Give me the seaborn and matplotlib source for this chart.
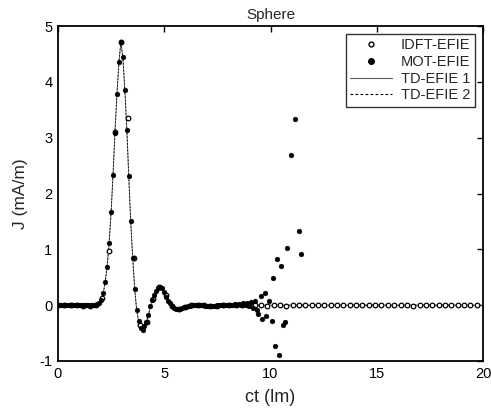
import numpy as np
import pandas as pd
import matplotlib
matplotlib.use("Agg")
import matplotlib.pyplot as plt
from matplotlib.lines import Line2D
import seaborn as sns

# ---------------- data ----------------
# IDFT-EFIE samples (open circles), time step ~0.2985 lm
idft_dt = 0.2985
idft_y = [0.00, 0.00, 0.00, 0.00, -0.01, -0.01, 0.00, 0.13, 0.97, 3.10,
          4.72, 3.36, 0.85, -0.36, -0.30, 0.11, 0.33, 0.18, -0.01, -0.07,
          -0.04, 0.00, 0.01, 0.00, -0.02, -0.01, 0.00, 0.01, 0.01, 0.01,
          0.00, 0.00, 0.00, -0.01, 0.00, 0.00, -0.01, 0.00, 0.00, 0.00,
          0.00, 0.01, 0.00, 0.00, 0.00, 0.00, 0.01, 0.00, 0.00, 0.01,
          0.00, 0.00, 0.00, 0.00, 0.00, 0.00, -0.01, 0.00, 0.00, 0.00,
          0.00, 0.00, 0.01, 0.00, 0.01, 0.00, 0.00]

# MOT-EFIE samples (filled dots), time step ~0.0925 lm up to ct ~9.3
mot_dt = 0.0925
mot_y = [0.01, 0.00, 0.01, 0.00, 0.01, 0.00, 0.00, 0.01, 0.00, 0.00,
         0.01, 0.00, 0.00, 0.00, 0.01, 0.00, 0.00, 0.00, 0.01, 0.01,
         0.02, 0.03, 0.09, 0.22, 0.41, 0.69, 1.11, 1.67, 2.34, 3.09,
         3.79, 4.36, 4.71, 4.44, 3.86, 3.14, 2.31, 1.51, 0.85, 0.29,
         -0.08, -0.28, -0.40, -0.44, -0.38, -0.30, -0.18, -0.02, 0.09, 0.18,
         0.26, 0.31, 0.33, 0.30, 0.23, 0.15, 0.08, 0.03, -0.02, -0.05,
         -0.07, -0.07, -0.06, -0.05, -0.04, -0.03, -0.02, -0.01, 0.00, 0.01,
         0.01, 0.01, 0.01, 0.00, 0.00, -0.01, -0.02, -0.02, -0.02, -0.01,
         -0.01, 0.00, 0.00, 0.01, 0.00, 0.01, 0.00, 0.01, 0.00, 0.01,
         0.02, 0.00, 0.02, 0.01, 0.03, 0.00, 0.04, -0.02, 0.06, -0.05,
         0.08, -0.08]
# MOT-EFIE late-time instability
mot_tail_x = [9.43, 9.55, 9.62, 9.73, 9.80, 9.92, 10.08, 10.13, 10.23, 10.32,
              10.42, 10.51, 10.60, 10.68, 10.78, 10.95, 11.15, 11.33, 11.42]
mot_tail_y = [-0.16, 0.17, -0.24, 0.21, -0.20, 0.08, -0.29, 0.48, -0.73, 0.83,
              -0.89, 0.70, -0.35, -0.30, 1.03, 2.69, 3.34, 1.33, 0.92]

# TD-EFIE reference curves (thin lines)
td_x = [0.0, 1.80, 1.94, 2.035, 2.13, 2.22, 2.31, 2.405, 2.50, 2.59, 2.68,
        2.775, 2.87, 2.96, 3.05, 3.145, 3.24, 3.33, 3.42, 3.515, 3.61,
        3.70, 3.79, 3.885, 3.98, 4.07, 4.16, 4.255, 4.35, 4.44, 4.53,
        4.625, 4.72, 4.81, 4.90, 4.995, 5.09, 5.18, 5.27, 5.365, 5.46,
        5.55, 5.64, 5.83, 6.01, 6.29, 6.66, 7.12, 7.49, 8.0, 20.0]
td1_y = [0.00, 0.00, 0.03, 0.09, 0.22, 0.41, 0.69, 1.11, 1.67, 2.34, 3.09,
         3.79, 4.36, 4.72, 4.44, 3.86, 3.14, 2.31, 1.51, 0.85, 0.29,
         -0.08, -0.28, -0.40, -0.44, -0.38, -0.30, -0.18, -0.02, 0.09, 0.18,
         0.26, 0.31, 0.33, 0.30, 0.23, 0.15, 0.08, 0.03, -0.02, -0.05,
         -0.07, -0.07, -0.05, -0.03, 0.00, 0.01, -0.02, 0.00, 0.00, 0.00]
td2_y = list(td1_y)

x_ticks = [0, 5, 10, 15, 20]
y_ticks = [-1, 0, 1, 2, 3, 4, 5]

# ---------------- figure ----------------
sns.set_style("white")
plt.rcParams['font.family'] = ['Liberation Sans', 'DejaVu Sans']
plt.rcParams['axes.unicode_minus'] = False

fig = plt.figure(figsize=(4.91, 4.09), dpi=100)
ax = fig.add_axes([58 / 491, 1 - 361 / 409, 425 / 491, 335 / 409])

idft_df = pd.DataFrame({"t": np.arange(len(idft_y)) * idft_dt, "J": idft_y})
mot_df = pd.DataFrame({
    "t": list(np.arange(len(mot_y)) * mot_dt) + mot_tail_x,
    "J": mot_y + mot_tail_y,
})
td_df = pd.DataFrame({"t": td_x, "J1": td1_y, "J2": td2_y})

sns.lineplot(data=td_df, x="t", y="J1", ax=ax, color="#777777", lw=0.7,
             sort=False, estimator=None, zorder=2)
sns.lineplot(data=td_df, x="t", y="J2", ax=ax, color="black", lw=0.6,
             linestyle=(0, (2, 2)), sort=False, estimator=None, zorder=2)
sns.scatterplot(data=idft_df, x="t", y="J", ax=ax, marker="o", s=11,
                facecolor="white", edgecolor="black", linewidth=0.9, zorder=3)
sns.scatterplot(data=mot_df, x="t", y="J", ax=ax, marker="o", s=12,
                color="black", edgecolor="black", linewidth=0.3, zorder=4)

ax.set_xlim(0, 20)
ax.set_ylim(-1, 5)
ax.set_xticks(x_ticks)
ax.set_yticks(y_ticks)
ax.tick_params(direction="in", length=4, width=1, top=True, right=True,
               labelsize=10.5, colors="black", pad=4)
for sp in ax.spines.values():
    sp.set_linewidth(1.3)
    sp.set_color("black")

ax.set_xlabel("ct (lm)", fontsize=13, labelpad=6)
ax.set_ylabel("J (mA/m)", fontsize=12.5, labelpad=8)
ax.set_title("Sphere", fontsize=11, pad=5)

handles = [
    Line2D([], [], ls="none", marker="o", ms=3.5, mfc="white", mec="black", mew=1),
    Line2D([], [], ls="none", marker="o", ms=4, mfc="black", mec="black"),
    Line2D([], [], color="#555555", lw=0.8),
    Line2D([], [], color="black", lw=0.8, linestyle=(0, (2.5, 2))),
]
labels = ["IDFT-EFIE", "MOT-EFIE", "TD-EFIE 1", "TD-EFIE 2"]
leg = ax.legend(handles, labels, loc="upper right", fontsize=10.5,
                frameon=True, fancybox=False, edgecolor="black",
                borderpad=0.3, labelspacing=0.18, handlelength=2.9,
                handletextpad=0.6, borderaxespad=0.55)
leg.get_frame().set_linewidth(1.0)

fig.savefig("out.png", dpi=100)
